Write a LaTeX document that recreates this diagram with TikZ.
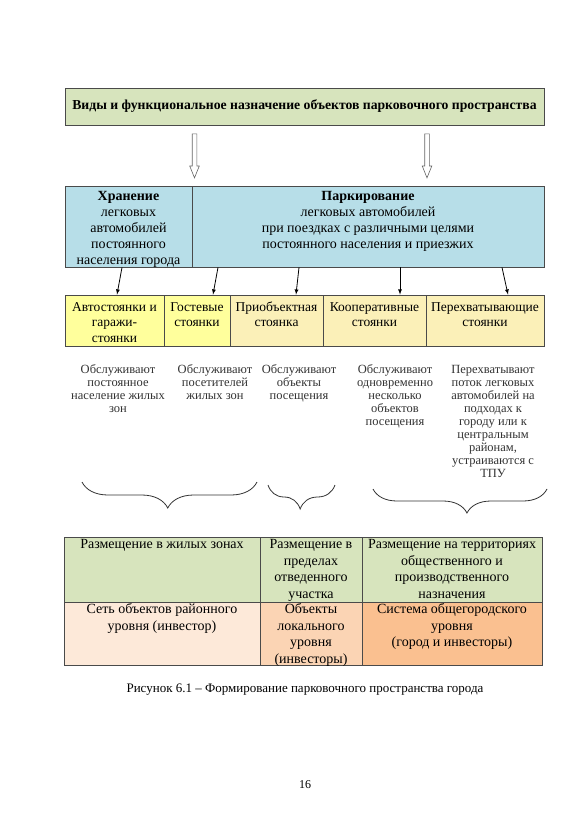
\documentclass[tikz,border=0pt]{standalone}
\usepackage{fontspec}
\setmainfont{Liberation Serif}
\usetikzlibrary{positioning,shapes.arrows,decorations.pathreplacing}
\definecolor{titlegreen}{HTML}{D7E4BD}
\definecolor{storeblue}{HTML}{B7DEE8}
\definecolor{yelbright}{HTML}{FFFF9C}
\definecolor{yelpale}{HTML}{FBF0B8}
\definecolor{peachA}{HTML}{FDE9D9}
\definecolor{peachB}{HTML}{FBD4B4}
\definecolor{peachC}{HTML}{FAC090}
\definecolor{boxgray}{HTML}{4A4A4A}
\tikzset{%
	cell/.style     = {draw=boxgray, rectangle, inner sep=0pt, line width=0.8pt}, % table cell
	celltext/.style = {align=center, inner sep=0pt, font=\fontsize{14}{16}\selectfont},
	note/.style     = {align=center, inner sep=0pt, text=black!80, font=\fontsize{12.5}{13}\selectfont},
	hollow/.style   = {draw=black!60, fill=white, single arrow, shape border rotate=270, inner sep=2pt,
	                   minimum height=44pt, single arrow head extend=2.5pt, single arrow tip angle=44, line width=0.6pt},
	arrow/.style    = {-latex, line width=0.8pt},
	brace/.style    = {decorate, draw=black!80, line width=0.8pt, decoration={brace, mirror, amplitude=26pt}},
}
\begin{document}
\begin{tikzpicture}[x=1pt,y=-1pt]
	\fill[white] (0,0) rectangle (580,821);
	\useasboundingbox (0,0) rectangle (580,821);

	% title
	\node [cell, fill=titlegreen, minimum width=479pt, minimum height=37pt, font=\bfseries\fontsize{13.7}{16}\selectfont] (title) at (304.5,106.5) {Виды и функциональное назначение объектов парковочного пространства};
	\node [hollow] (harr) at (194.5,153) {};
	\node [hollow] (parr) at (427,153) {};

	% storage / parking
	\node [cell, fill=storeblue, minimum width=127pt, minimum height=81pt] (hr) at (128.5,226.5) {};
	\node [cell, fill=storeblue, minimum width=352pt, minimum height=81pt] (pk) at (368,226.5) {};
	\node [celltext, below=3.3pt of hr.north] (hrtext) {\strut\textbf{Хранение}\\легковых\\автомобилей\\постоянного\\населения города};
	\node [celltext, below=3.3pt of pk.north] (pktext) {\strut\textbf{Паркирование}\\легковых автомобилей\\при поездках с различными целями\\постоянного населения и приезжих};

	% kinds of parking
	\node [cell, fill=yelbright, minimum width=99pt, minimum height=51pt] (ya) at (114.5,320.5) {};
	\node [cell, fill=yelbright, minimum width=66pt, minimum height=51pt] (yb) at (197,320.5) {};
	\node [cell, fill=yelpale, minimum width=93pt, minimum height=51pt] (yc) at (276.5,320.5) {};
	\node [cell, fill=yelpale, minimum width=103pt, minimum height=51pt] (yd) at (374.5,320.5) {};
	\node [cell, fill=yelpale, minimum width=118pt, minimum height=51pt] (ye) at (485,320.5) {};
	\tikzset{celltext/.append style={font=\fontsize{13.5}{15.7}\selectfont}}
	\node [celltext, below=5.5pt of ya.north] (yatext) {\strut Автостоянки и\\гаражи-\\стоянки};
	\node [celltext, below=5.5pt of yb.north] (ybtext) {\strut Гостевые\\стоянки};
	\node [celltext, below=5.5pt of yc.north] (yctext) {\strut Приобъектная\\стоянка};
	\node [celltext, below=5.5pt of yd.north] (ydtext) {\strut Кооперативные\\стоянки};
	\node [celltext, below=5.5pt of ye.north] (yetext) {\strut Перехватывающие\\стоянки};

	\draw[arrow] ([xshift=-6.5pt]hr.south) -- ([xshift=2.5pt]ya.north);
	\draw[arrow] ([xshift=-150pt]pk.south) -- ([xshift=16pt]yb.north);
	\draw[arrow] ([xshift=-69pt]pk.south) -- ([xshift=19.5pt]yc.north);
	\draw[arrow] ([xshift=32pt]pk.south) -- ([xshift=25.5pt]yd.north);
	\draw[arrow] ([xshift=134pt]pk.south) -- ([xshift=23pt]ye.north);

	% what they serve
	\node [note, anchor=north] (na) at (118,364) {\strut Обслуживают\\постоянное\\население жилых\\зон};
	\node [note, anchor=north] (nb) at (215,364) {\strut Обслуживают\\посетителей\\жилых зон};
	\node [note, anchor=north] (nc) at (299,364) {\strut Обслуживают\\объекты\\посещения};
	\node [note, anchor=north] (nd) at (395,364) {\strut Обслуживают\\одновременно\\несколько\\объектов\\посещения};
	\node [note, anchor=north] (ne) at (493,364) {\strut Перехватывают\\поток легковых\\автомобилей на\\подходах к\\городу или к\\центральным\\районам,\\устраиваются с\\ТПУ};

	\draw[brace, decoration={aspect=0.49}] (82,482) -- (257,482);
	\draw[brace, decoration={aspect=0.48, amplitude=24pt}] (268,485) -- (335,485);
	\draw[brace, decoration={aspect=0.54, amplitude=24pt}] (373,489) -- (547,489);

	% placement table
	\node [cell, fill=titlegreen, minimum width=196pt, minimum height=65pt] (ra) at (162,569.5) {};
	\node [cell, fill=titlegreen, minimum width=102pt, minimum height=65pt] (rb) at (311,569.5) {};
	\node [cell, fill=titlegreen, minimum width=180pt, minimum height=65pt] (rc) at (452,569.5) {};
	\node [cell, fill=peachA, minimum width=196pt, minimum height=63pt] (la) at (162,633.5) {};
	\node [cell, fill=peachB, minimum width=102pt, minimum height=63pt] (lb) at (311,633.5) {};
	\node [cell, fill=peachC, minimum width=180pt, minimum height=63pt] (lc) at (452,633.5) {};
	\tikzset{celltext/.append style={font=\fontsize{14}{16.5}\selectfont}}
	\node [celltext, below=0.3pt of ra.north] (ratext) {\strut Размещение в жилых зонах};
	\node [celltext, below=0.3pt of rb.north] (rbtext) {\strut Размещение в\\пределах\\отведенного\\участка};
	\node [celltext, below=0.3pt of rc.north] (rctext) {\strut Размещение на территориях\\общественного и\\производственного\\назначения};
	\node [celltext, below=0.3pt of la.north] (latext) {\strut Сеть объектов районного\\уровня (инвестор)};
	\node [celltext, below=0.3pt of lb.north] (lbtext) {\strut Объекты\\локального\\уровня\\(инвесторы)};
	\node [celltext, below=0.3pt of lc.north] (lctext) {\strut Система общегородского\\уровня\\(город и инвесторы)};

	% caption and page number
	\node [font=\fontsize{13}{15}\selectfont] (caption) at (305,690) {Рисунок 6.1 – Формирование парковочного пространства города};
	\node [font=\fontsize{12}{14}\selectfont] (page) at (305,785) {16};
\end{tikzpicture}
\end{document}
